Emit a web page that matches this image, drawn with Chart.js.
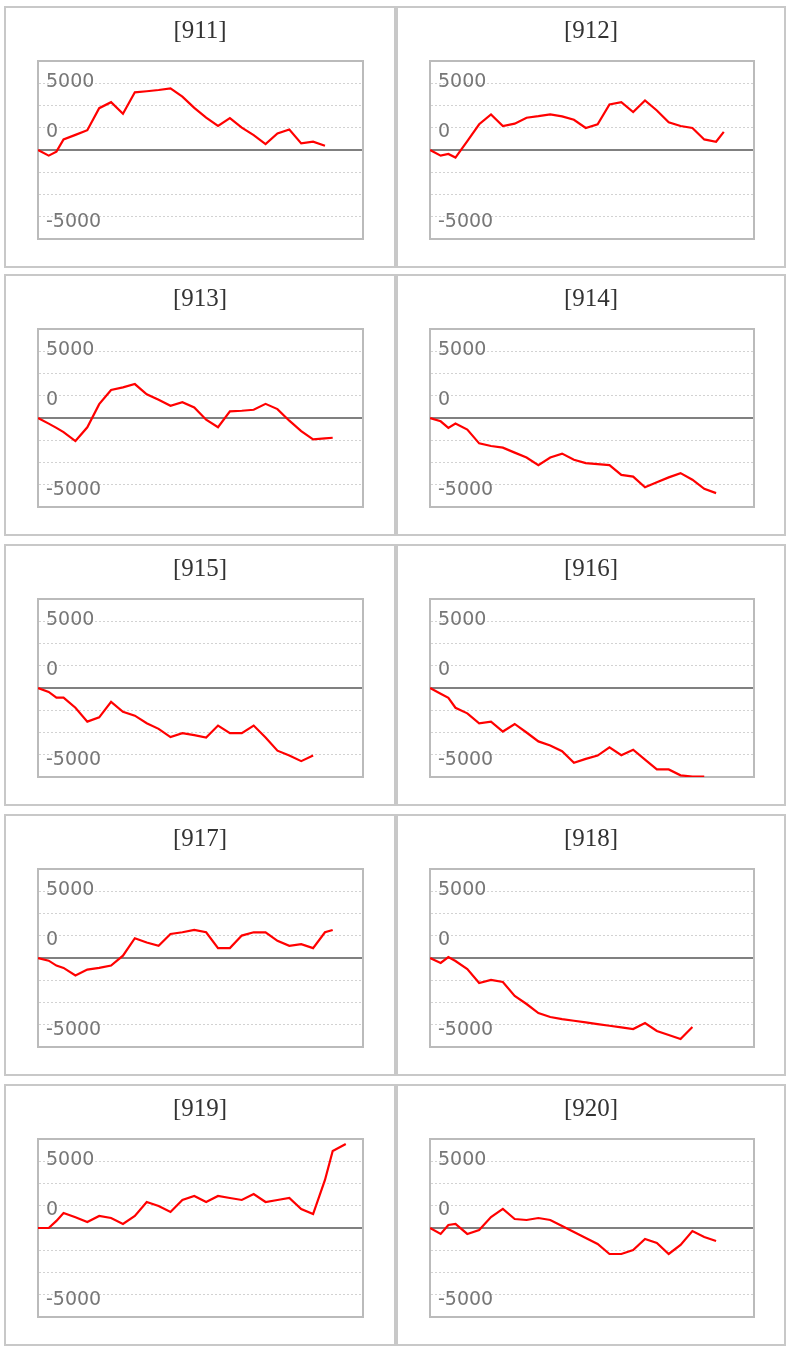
<!DOCTYPE html>
<html><head><meta charset="utf-8">
<script src="https://cdn.jsdelivr.net/npm/chart.js@4.4.1/dist/chart.umd.min.js"></script>
<style>
html,body{margin:0;padding:0;background:#fff;}
body{width:790px;height:1350px;position:relative;overflow:hidden;}
.panel{position:absolute;box-sizing:border-box;border:2px solid #c8c8c8;height:262px;background:#fff;}
.title{position:absolute;left:0;right:0;top:8px;height:28px;line-height:28px;text-align:center;font-family:"Liberation Serif","Times New Roman",serif;font-size:25px;color:#333;}
canvas{position:absolute;left:0;top:0;}
</style></head><body>
<script>
// x positions (days) shared by all series
const dayPos = [0, 0.9, 1.55, 2.15, 3.15, 4.15, 5.15, 6.15, 7.15, 8.15, 9.15, 10.15, 11.15, 12.15,
  13.15, 14.15, 15.15, 16.15, 17.15, 18.15, 19.15, 20.15, 21.15, 22.15, 23.15, 24.15, 24.8, 25.9];
const codes = ['[911]','[912]','[913]','[914]','[915]','[916]','[917]','[918]','[919]','[920]'];
const s911 = [0,-630,-185,1185,1700,2220,4700,5370,4070,6480,6600,6740,6930,6000,4740,3630,2700,3590,2520,1670,670,1850,2300,740,930,480];
const s912 = [0,-630,-445,-850,1000,2890,4000,2700,2960,3630,3800,4000,3780,3400,2480,2890,5110,5370,4260,5560,4440,3110,2700,2480,1185,930,2040];
const s913 = [0,-630,-1110,-1590,-2590,-1040,1555,3150,3440,3815,2670,2040,1370,1780,1185,-185,-1040,740,815,930,1590,1000,-300,-1480,-2400,-2300,-2220];
const s914 = [0,-370,-1110,-630,-1300,-2850,-3150,-3330,-3890,-4440,-5300,-4440,-4000,-4700,-5070,-5190,-5300,-6400,-6590,-7780,-7220,-6670,-6190,-6930,-7960,-8440];
const s915 = [0,-445,-1075,-1075,-2220,-3780,-3300,-1555,-2670,-3110,-3960,-4590,-5520,-5070,-5300,-5560,-4220,-5070,-5070,-4220,-5560,-7040,-7590,-8220,-7590];
const s916 = [0,-640,-1110,-2220,-2850,-3960,-3780,-4890,-4040,-5000,-6000,-6450,-7110,-8410,-7960,-7590,-6670,-7550,-6930,-8040,-9150,-9150,-9810,-9960,-9960];
const s917 = [0,-300,-850,-1110,-1960,-1300,-1110,-850,260,2220,1740,1370,2700,2890,3150,2890,1110,1110,2520,2890,2890,1930,1370,1555,1110,2890,3150];
const s918 = [0,-560,110,-340,-1240,-2810,-2470,-2700,-4270,-5170,-6180,-6630,-6860,-7050,-7230,-7420,-7610,-7790,-7980,-7300,-8200,-8650,-9100,-7760];
const s919 = [0,0,800,1690,1200,670,1350,1120,450,1350,2920,2470,1800,3150,3600,2920,3600,3370,3150,3820,2920,3150,3370,2140,1570,5400,8650,9440];
const s920 = [0,-670,340,450,-670,-220,1240,2140,1010,900,1120,900,220,-450,-1120,-1800,-2920,-2920,-2470,-1240,-1690,-2920,-1910,-340,-1010,-1460];
const seriesList = [s911,s912,s913,s914,s915,s916,s917,s918,s919,s920];
// y grid lines, and the labels the reference prints (with the value where each label sits)
const yGridValues = [-10000,-7500,-5000,-2500,0,2500,5000,7500,10000];
const yLabelAt = [7650, 2050, -8050];
const yLabelText = ['5000', '0', '-5000'];
const yMin = -10000, yMax = 10000, xMin = 0, xMax = 27.35;

const colLeft = [4, 396], colWidth = [392, 390], rightPad = [31, 30];
const rowTop = [6, 274, 544, 814, 1084];
const panelH = 262;

function noSize(s){ if (s.isHorizontal()) s.height = 0; else s.width = 0; }
const allTicks = yGridValues.concat(yLabelAt).sort((a, b) => a - b);
function isGrid(v){ return yGridValues.indexOf(v) >= 0; }

seriesList.forEach((vals, i) => {
  const col = i % 2, row = Math.floor(i / 2);
  const div = document.createElement('div');
  div.className = 'panel';
  div.style.left = colLeft[col] + 'px';
  div.style.top = rowTop[row] + 'px';
  div.style.width = colWidth[col] + 'px';
  const cv = document.createElement('canvas');
  cv.width = colWidth[col] - 4; cv.height = panelH - 4;
  div.appendChild(cv);
  const t = document.createElement('div');
  t.className = 'title'; t.textContent = codes[i];
  div.appendChild(t);
  document.body.appendChild(div);
  const pts = vals.map((v, k) => ({x: dayPos[k], y: v}));
  const hidden = {display: false};
  new Chart(cv, {
    type: 'line',
    data: {datasets: [{data: pts, borderColor: '#ff0000', borderWidth: 2.2, pointRadius: 0, tension: 0, fill: false}]},
    options: {
      responsive: false, animation: false, devicePixelRatio: 1,
      layout: {padding: {left: 32, top: 53, right: rightPad[col], bottom: 27}},
      plugins: {legend: hidden, title: hidden, tooltip: {enabled: false}},
      scales: {
        x: {type: 'linear', position: 'bottom', min: xMin, max: xMax, afterFit: noSize,
            ticks: {display: false}, grid: {display: false, drawTicks: false},
            border: {display: true, color: '#bbbbbb', width: 2}},
        x2: {type: 'linear', position: 'top', min: xMin, max: xMax, afterFit: noSize,
            ticks: {display: false}, grid: {display: false, drawTicks: false},
            border: {display: true, color: '#bbbbbb', width: 2}},
        y2: {type: 'linear', position: 'right', min: yMin, max: yMax, afterFit: noSize,
            ticks: {display: false}, grid: {display: false, drawTicks: false},
            border: {display: true, color: '#bbbbbb', width: 2}},
        y: {type: 'linear', position: 'left', min: yMin, max: yMax, afterFit: noSize,
            afterBuildTicks: s => { s.ticks = allTicks.map(v => ({value: v})); },
            ticks: {mirror: true, padding: 8, color: '#777777', autoSkip: false,
                    font: {family: 'DejaVu Sans', size: 19},
                    callback: v => { const k = yLabelAt.indexOf(v); return k >= 0 ? yLabelText[k] : ''; }},
            grid: {drawTicks: false,
                   color: c => {
                     const v = c.tick.value;
                     if (!isGrid(v) || Math.abs(v) === 10000) return 'rgba(0,0,0,0)';
                     return v === 0 ? '#808080' : '#d2d2d2';
                   },
                   lineWidth: c => c.tick.value === 0 ? 2 : 1},
            border: {display: true, color: '#bbbbbb', width: 2,
                     dash: c => (c.type === 'tick' && c.tick.value !== 0) ? [2, 2] : []}}
      }
    }
  });
});
</script>
</body></html>
